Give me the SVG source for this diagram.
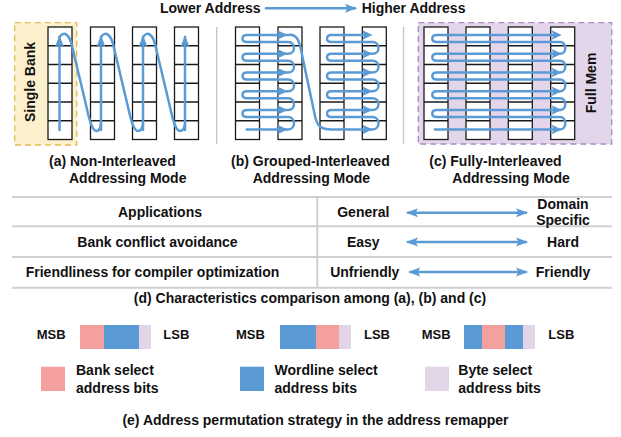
<svg xmlns="http://www.w3.org/2000/svg" xmlns:xlink="http://www.w3.org/1999/xlink" width="621" height="437" viewBox="0 0 621 437">
<style>
text{font-family:"Liberation Sans",Arial,Helvetica,sans-serif;font-weight:700;font-size:14px;fill:#111}
.sm{font-size:13px}
.mid{text-anchor:middle}
.cell{fill:#fff;stroke:#1a1a1a;stroke-width:1.3}
.rowl{stroke:#1a1a1a;stroke-width:1.3}
.flow{fill:none;stroke:#5b9bd5;stroke-width:2.5;stroke-linecap:round;stroke-linejoin:round}
.sep{stroke:#c4c4c4;stroke-width:1.3}
.tbl{stroke:#cfcfcf;stroke-width:2}
.pink{fill:#f4a09f}
.blue{fill:#5b9bd5}
.lav{fill:#e2d5e8}
</style>
<defs>
<marker id="arr" viewBox="0 0 12 10" refX="10" refY="5" markerWidth="12" markerHeight="10" markerUnits="userSpaceOnUse" orient="auto-start-reverse">
<path d="M0,0.5 L12,5 L0,9.5 L2.5,5 Z" fill="#5b9bd5"/>
</marker>
<path id="ahR" d="M0,0 L-10,-4.8 L-8.5,0 L-10,4.8 Z" fill="#5b9bd5"/>
<g id="col">
<rect x="0" y="27" width="24" height="112.5" class="cell"/>
<path class="rowl" d="M0,45.75 H24 M0,64.5 H24 M0,83.25 H24 M0,102 H24 M0,120.75 H24"/>
</g>
</defs>

<g id="address-direction">
<text x="160" y="13">Lower Address</text>
<text x="361.7" y="13">Higher Address</text>
</g>

<g id="single-bank">
<rect x="14.7" y="22.7" width="62" height="122.3" fill="#fdf0cd" stroke="#e6bb55" stroke-width="1.3" stroke-dasharray="6,4"/>
<text class="mid" transform="translate(35,82) rotate(-90)">Single Bank</text>
</g>
<g id="full-mem">
<rect x="418.3" y="22.7" width="193.4" height="121.3" fill="#e4d6ea" stroke="#a88cc2" stroke-width="1.3" stroke-dasharray="6,4"/>
<text class="mid" transform="translate(595.5,83) rotate(-90)">Full Mem</text>
</g>

<g id="separators">
<line class="sep" x1="216.7" y1="27" x2="216.7" y2="144"/>
<line class="sep" x1="403.5" y1="27" x2="403.5" y2="144"/>
</g>

<g id="panel-a">
<use xlink:href="#col" x="48"/>
<use xlink:href="#col" x="90.5"/>
<use xlink:href="#col" x="132.5"/>
<use xlink:href="#col" x="174.5"/>
<text x="49" y="166">(a) Non-Interleaved</text>
<text x="69" y="182.5">Addressing Mode</text>
</g>

<g id="panel-b">
<use xlink:href="#col" x="235.5"/>
<use xlink:href="#col" x="278"/>
<use xlink:href="#col" x="320"/>
<use xlink:href="#col" x="362.3"/>
<text x="231" y="166">(b) Grouped-Interleaved</text>
<text x="252.7" y="182.5">Addressing Mode</text>
</g>

<g id="panel-c">
<use xlink:href="#col" x="424"/>
<use xlink:href="#col" x="466"/>
<use xlink:href="#col" x="508.3"/>
<use xlink:href="#col" x="550.7"/>
<text x="429.3" y="166">(c) Fully-Interleaved</text>
<text x="452.3" y="182.5">Addressing Mode</text>
</g>

<g id="connectors">
<line class="flow" x1="266" y1="8.3" x2="355" y2="8.3" marker-end="url(#arr)"/>

<line class="flow" x1="59.5" y1="130" x2="59.5" y2="37" marker-end="url(#arr)"/>
<line class="flow" x1="101" y1="130" x2="101" y2="37" marker-end="url(#arr)"/>
<line class="flow" x1="143" y1="130" x2="143" y2="37" marker-end="url(#arr)"/>
<line class="flow" x1="185" y1="130" x2="185" y2="37" marker-end="url(#arr)"/>
<path class="flow" d="M59.5,37 C63.5,31 69.5,33 72.5,48 L86.5,107 C89.5,121 92.5,131 96.5,131 C99.5,131 100.5,128 101,124"/>
<path class="flow" d="M101,37 C105,31 111,33 114,48 L128,107 C131,121 134,131 138,131 C141,131 142.5,128 143,124"/>
<path class="flow" d="M143,37 C147,31 153,33 156,48 L170,107 C173,121 176,131 180,131 C183,131 184.5,128 185,124"/>

<path class="flow" d="M246.7,129.5 H288 C296,129.5 296,117 288,117 H247 C241,117 241,110 247,110
H288 C296,110 296,98.25 288,98.25 H247 C241,98.25 241,91.25 247,91.25
H288 C296,91.25 296,79.5 288,79.5 H247 C241,79.5 241,72.5 247,72.5
H288 C296,72.5 296,60.75 288,60.75 H247 C241,60.75 241,53.75 247,53.75
H288 C296,53.75 296,42 288,42 H247 C241,42 241,35 247,35
H288 C296,33 299,40 301,50 L315,116 C317,126 321,129.5 331.5,129.5
H372.5 C380.5,129.5 380.5,117 372.5,117 H331.5 C325.5,117 325.5,110 331.5,110
H372.5 C380.5,110 380.5,98.25 372.5,98.25 H331.5 C325.5,98.25 325.5,91.25 331.5,91.25
H372.5 C380.5,91.25 380.5,79.5 372.5,79.5 H331.5 C325.5,79.5 325.5,72.5 331.5,72.5
H372.5 C380.5,72.5 380.5,60.75 372.5,60.75 H331.5 C325.5,60.75 325.5,53.75 331.5,53.75
H372.5 C380.5,53.75 380.5,42 372.5,42 H331.5 C325.5,42 325.5,35 331.5,35 H366"/>
<use xlink:href="#ahR" x="287.5" y="129.5"/>
<use xlink:href="#ahR" x="287.5" y="110"/>
<use xlink:href="#ahR" x="287.5" y="91.25"/>
<use xlink:href="#ahR" x="287.5" y="72.5"/>
<use xlink:href="#ahR" x="287.5" y="53.75"/>
<use xlink:href="#ahR" x="287.5" y="35"/>
<use xlink:href="#ahR" x="372.5" y="129.5"/>
<use xlink:href="#ahR" x="372.5" y="110"/>
<use xlink:href="#ahR" x="372.5" y="91.25"/>
<use xlink:href="#ahR" x="372.5" y="72.5"/>
<use xlink:href="#ahR" x="372.5" y="53.75"/>
<use xlink:href="#ahR" x="372.5" y="35"/>

<path class="flow" d="M435,129.5 H560 C567,129.5 567,117 560,117 H436.8 C430.8,117 430.8,110 436.8,110
H560 C567,110 567,98.25 560,98.25 H436.8 C430.8,98.25 430.8,91.25 436.8,91.25
H560 C567,91.25 567,79.5 560,79.5 H436.8 C430.8,79.5 430.8,72.5 436.8,72.5
H560 C567,72.5 567,60.75 560,60.75 H436.8 C430.8,60.75 430.8,53.75 436.8,53.75
H560 C567,53.75 567,42 560,42 H436.8 C430.8,42 430.8,35 436.8,35 H555"/>
<use xlink:href="#ahR" x="561.7" y="129.5"/>
<use xlink:href="#ahR" x="561.7" y="110"/>
<use xlink:href="#ahR" x="561.7" y="91.25"/>
<use xlink:href="#ahR" x="561.7" y="72.5"/>
<use xlink:href="#ahR" x="561.7" y="53.75"/>
<use xlink:href="#ahR" x="561.7" y="35"/>

<line class="flow" x1="408" y1="212.7" x2="526" y2="212.7" marker-start="url(#arr)" marker-end="url(#arr)"/>
<line class="flow" x1="408" y1="242" x2="526" y2="242" marker-start="url(#arr)" marker-end="url(#arr)"/>
<line class="flow" x1="410.3" y1="272" x2="526" y2="272" marker-start="url(#arr)" marker-end="url(#arr)"/>
</g>

<g id="comparison-table">
<line class="tbl" x1="12" y1="197" x2="612" y2="197"/>
<line class="tbl" x1="12" y1="226.3" x2="612" y2="226.3"/>
<line class="tbl" x1="12" y1="257" x2="612" y2="257"/>
<line class="tbl" x1="12" y1="287.7" x2="612" y2="287.7"/>
<line class="tbl" x1="317.3" y1="197" x2="317.3" y2="287.7"/>
<text class="mid" x="160" y="217.3">Applications</text>
<text class="mid" x="157.5" y="246.7">Bank conflict avoidance</text>
<text class="mid" x="152.5" y="277">Friendliness for compiler optimization</text>
<text class="mid" x="363.3" y="217.3">General</text>
<text class="mid" x="363.3" y="246.7">Easy</text>
<text class="mid" x="364.8" y="277">Unfriendly</text>
<text class="mid" x="563" y="209">Domain</text>
<text class="mid" x="563" y="225">Specific</text>
<text class="mid" x="563" y="246.7">Hard</text>
<text class="mid" x="563" y="277">Friendly</text>
<text class="mid" x="310" y="303">(d) Characteristics comparison among (a), (b) and (c)</text>
</g>

<g id="bits-a">
<text class="sm" x="36.7" y="339">MSB</text>
<rect class="pink" x="80" y="325" width="24" height="24"/>
<rect class="blue" x="104" y="325" width="35" height="24"/>
<rect class="lav" x="139" y="325" width="12" height="24"/>
<text class="sm" x="163.3" y="339">LSB</text>
</g>
<g id="bits-b">
<text class="sm" x="236" y="339">MSB</text>
<rect class="blue" x="280" y="325" width="36" height="24"/>
<rect class="pink" x="316" y="325" width="23" height="24"/>
<rect class="lav" x="339" y="325" width="12" height="24"/>
<text class="sm" x="364" y="339">LSB</text>
</g>
<g id="bits-c">
<text class="sm" x="421.7" y="339">MSB</text>
<rect class="blue" x="464" y="325" width="18" height="24"/>
<rect class="pink" x="482" y="325" width="23" height="24"/>
<rect class="blue" x="505" y="325" width="18.3" height="24"/>
<rect class="lav" x="523.3" y="325" width="11.7" height="24"/>
<text class="sm" x="548.3" y="339">LSB</text>
</g>

<g id="legend-bank">
<rect class="pink" x="41" y="366.7" width="24" height="24.3"/>
<text x="76" y="375">Bank select</text>
<text x="76" y="392.5">address bits</text>
</g>
<g id="legend-wordline">
<rect class="blue" x="240" y="366.7" width="24" height="24.3"/>
<text x="274.5" y="375">Wordline select</text>
<text x="274.5" y="392.5">address bits</text>
</g>
<g id="legend-byte">
<rect class="lav" x="425" y="366.7" width="24" height="24.3"/>
<text x="458.3" y="375">Byte select</text>
<text x="458.3" y="392.5">address bits</text>
</g>
<text class="mid" x="315.5" y="425">(e) Address permutation strategy in the address remapper</text>
</svg>
